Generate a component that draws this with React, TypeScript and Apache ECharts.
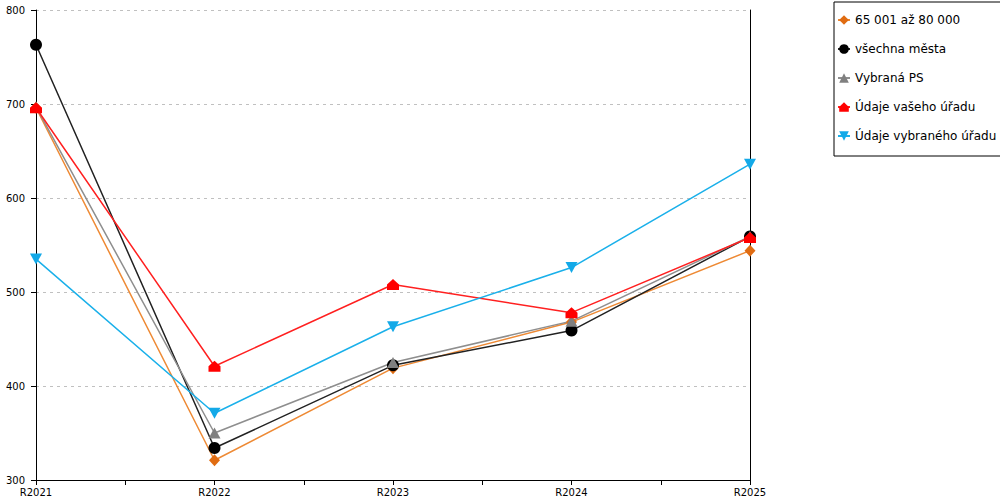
import React, { useEffect, useRef } from "react";
import * as echarts from "echarts";

const categories = ["R2021", "R2022", "R2023", "R2024", "R2025"];
const seriesNames = [
  "65 001 až 80 000",
  "všechna města",
  "Vybraná PS",
  "Údaje vašeho úřadu",
  "Údaje vybraného úřadu",
];
const orangeValues = [696, 321, 419, 468, 544];
const blackValues = [763, 334, 422, 459, 559];
const grayValues = [697, 350, 425, 469, 559];
const redValues = [696, 421, 508, 478, 558];
const blueValues = [535, 371, 463, 526, 636];

const yTicks = { min: 300, max: 800, interval: 100 };

const HOUSE = "path://M0,10 L0,5 L5,0 L10,5 L10,10 Z";
const INV_TRI = "path://M0,0 L10,0 L5,10 Z";

export default function App() {
  const ref = useRef<HTMLDivElement>(null);
  useEffect(() => {
    document.body.style.margin = "0";
    if (!ref.current) return;
    const chart = echarts.init(ref.current, undefined, { renderer: "svg" });
    const toData = (vals: number[]) => vals.map((v, i) => [i, v]);
    const mk = (
      name: string,
      vals: number[],
      lineColor: string,
      markerColor: string,
      symbol: string,
      size: number | number[]
    ) => ({
      name,
      type: "line",
      data: toData(vals),
      symbol,
      symbolSize: size,
      showAllSymbol: true,
      lineStyle: { color: lineColor, width: 1.5 },
      itemStyle: { color: markerColor },
      color: markerColor,
    });
    chart.setOption({
      animation: false,
      textStyle: { fontFamily: "DejaVu Sans" },
      grid: { left: 36, right: 250, top: 10, bottom: 20 },
      legend: {
        orient: "vertical",
        left: 834,
        top: 2,
        padding: [12, 8, 14, 3],
        itemGap: 17,
        itemWidth: 12,
        itemHeight: 12,
        borderColor: "#000",
        borderWidth: 1,
        textStyle: { fontSize: 12, color: "#000", fontFamily: "DejaVu Sans" },
        data: seriesNames,
      },
      xAxis: {
        type: "value",
        min: 0,
        max: categories.length - 1,
        interval: 0.5,
        axisLine: { show: true, lineStyle: { color: "#000", width: 1 } },
        axisTick: { show: true, length: 5, lineStyle: { color: "#000" } },
        splitLine: { show: false },
        axisLabel: {
          fontSize: 10,
          color: "#000",
          margin: 7,
          showMaxLabel: true,
          showMinLabel: true,
          formatter: (v: number) =>
            Number.isInteger(v) ? categories[v] ?? "" : "",
        },
      },
      yAxis: [
        {
          type: "value",
          min: yTicks.min,
          max: yTicks.max,
          interval: yTicks.interval,
          axisLine: { show: true, lineStyle: { color: "#000", width: 1 } },
          axisTick: { show: true, length: 5, lineStyle: { color: "#000" } },
          axisLabel: { fontSize: 10, color: "#000", margin: 11 },
          splitLine: {
            show: true,
            lineStyle: { color: "#c0c0c0", type: [3, 4], width: 1 },
          },
        },
        {
          type: "value",
          position: "right",
          min: yTicks.min,
          max: yTicks.max,
          interval: yTicks.interval,
          axisLine: { show: true, lineStyle: { color: "#000", width: 1 } },
          axisTick: { show: false },
          axisLabel: { show: false },
          splitLine: { show: false },
        },
      ],
      series: [
        mk(seriesNames[0], orangeValues, "#ee8a35", "#e06c12", "diamond", [11, 12]),
        mk(seriesNames[1], blackValues, "#222222", "#000000", "circle", 12),
        mk(seriesNames[2], grayValues, "#8e8e8e", "#808080", "triangle", [12, 11]),
        mk(seriesNames[3], redValues, "#ff2020", "#ff0000", HOUSE, [12, 11]),
        mk(seriesNames[4], blueValues, "#1ab0ea", "#13a9e8", INV_TRI, [12, 11]),
      ],
    });
    return () => chart.dispose();
  }, []);
  return <div ref={ref} style={{ width: 1000, height: 500 }} />;
}
